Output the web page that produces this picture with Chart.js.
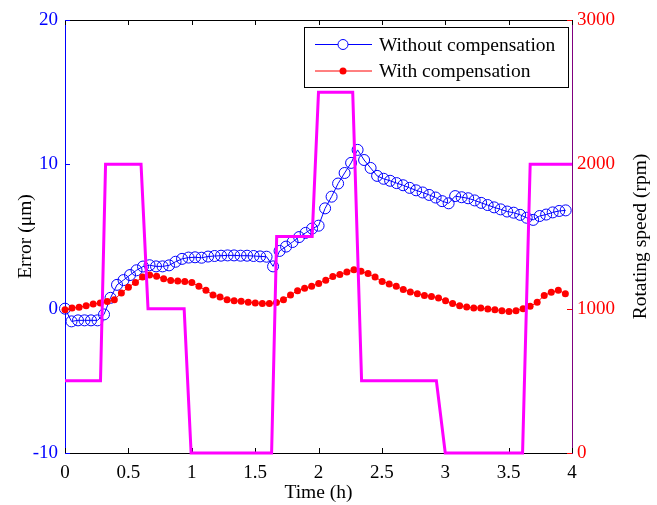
<!DOCTYPE html>
<html>
<head>
<meta charset="utf-8">
<title>Error and rotating speed vs time</title>
<script src="https://cdn.jsdelivr.net/npm/chart.js@4.4.1/dist/chart.umd.min.js"></script>
<style>
  html, body { margin: 0; padding: 0; background: #fff; }
  #chart { display: block; }
</style>
</head>
<body>
<canvas id="chart" width="657" height="505"></canvas>
<script>
// Error without compensation (um), one sample every blueStepH hours
const blueStepH = 0.0513;
const errWithout = [
  0.0, -0.88, -0.81, -0.81, -0.81, -0.81, -0.4, 0.75, 1.65, 1.98,
  2.33, 2.66, 2.92, 3.01, 2.93, 2.93, 3.0, 3.25, 3.45, 3.54,
  3.56, 3.53, 3.61, 3.65, 3.67, 3.69, 3.69, 3.67, 3.67, 3.65,
  3.62, 3.6, 2.93, 4.0, 4.3, 4.62, 4.96, 5.25, 5.55, 5.75,
  6.95, 7.76, 8.67, 9.4, 10.1, 11.0, 10.3, 9.75, 9.2, 9.0,
  8.86, 8.7, 8.55, 8.37, 8.2, 8.05, 7.88, 7.7, 7.45, 7.3,
  7.8, 7.72, 7.65, 7.5, 7.33, 7.18, 7.02, 6.88, 6.73, 6.65,
  6.5, 6.3, 6.15, 6.42, 6.52, 6.67, 6.77, 6.81
];

// Error with compensation (um), one sample every redStepH hours
const redStepH = 0.0556;
const errWith = [
  -0.07, 0.05, 0.09, 0.2, 0.32, 0.39, 0.49, 0.62, 1.09, 1.48,
  1.82, 2.19, 2.33, 2.24, 2.08, 1.96, 1.92, 1.89, 1.82, 1.55,
  1.27, 0.95, 0.81, 0.62, 0.55, 0.51, 0.44, 0.39, 0.35, 0.35,
  0.42, 0.62, 0.95, 1.25, 1.41, 1.55, 1.75, 1.97, 2.22, 2.36,
  2.54, 2.70, 2.59, 2.43, 2.19, 1.89, 1.71, 1.55, 1.32, 1.16,
  1.04, 0.92, 0.85, 0.74, 0.55, 0.35, 0.21, 0.12, 0.05, 0.05,
  -0.02, -0.07, -0.14, -0.19, -0.14, 0, 0.16, 0.44, 0.92, 1.13,
  1.27, 1.04
];

// Spindle speed profile (right axis)
const speedTime = [0, 0.28, 0.32, 0.6, 0.655, 0.94, 0.995, 1.63, 1.67, 1.95, 2.0, 2.27, 2.34, 2.93, 3.0, 3.61, 3.67, 4];
const speedRpm  = [500, 500, 2000, 2000, 1000, 1000, 0, 0, 1500, 1500, 2500, 2500, 500, 500, 0, 0, 2000, 2000];

const legendLabels = ['Without compensation', 'With compensation'];
const xTitle = 'Time (h)';
const yTitle = 'Error (\u03bcm)';
const y1Title = 'Rotating speed (rpm)';

const SERIF = "'Liberation Serif', 'Times New Roman', serif";
const TICK = 5;
const BLUE = '#0000ff';
const RED = '#ff0000';
const MAGENTA = '#ff00ff';

const blueData = errWithout.map((v, i) => ({ x: i * blueStepH, y: v }));
const redData = errWith.map((v, i) => ({ x: i * redStepH, y: v }));
const speedData = speedTime.map((t, i) => ({ x: t, y: speedRpm[i] }));

// plain number labels, no thousands separator or trailing .0
const plainLabel = v => String(v);

// inward ticks, top edge, right-hand title and the legend box
const matlabFrame = {
    id: 'matlabFrame',
    beforeDatasetsDraw(chart) {
        const { ctx, chartArea: a, scales } = chart;
        ctx.save();
        ctx.lineWidth = 1;

        ctx.strokeStyle = '#000';
        ctx.beginPath();
        ctx.moveTo(a.left, a.top + 0.5);
        ctx.lineTo(a.right, a.top + 0.5);
        ctx.stroke();

        scales.x.ticks.forEach(t => {
            const px = Math.round(scales.x.getPixelForValue(t.value)) + 0.5;
            ctx.beginPath();
            ctx.moveTo(px, a.bottom);
            ctx.lineTo(px, a.bottom - TICK);
            ctx.moveTo(px, a.top);
            ctx.lineTo(px, a.top + TICK);
            ctx.stroke();
        });

        ctx.strokeStyle = BLUE;
        scales.y.ticks.forEach(t => {
            const py = Math.round(scales.y.getPixelForValue(t.value)) + 0.5;
            ctx.beginPath();
            ctx.moveTo(a.left, py);
            ctx.lineTo(a.left + TICK, py);
            ctx.stroke();
        });

        ctx.strokeStyle = RED;
        scales.y1.ticks.forEach(t => {
            const py = Math.round(scales.y1.getPixelForValue(t.value)) + 0.5;
            ctx.beginPath();
            ctx.moveTo(a.right, py);
            ctx.lineTo(a.right - TICK, py);
            ctx.stroke();
        });
        ctx.restore();
    },
    afterDraw(chart) {
        const { ctx, chartArea: a } = chart;
        ctx.save();

        // right axis title reads bottom to top
        ctx.fillStyle = '#000';
        ctx.font = '19.5px ' + SERIF;
        ctx.textAlign = 'center';
        ctx.textBaseline = 'middle';
        ctx.translate(641, (a.top + a.bottom) / 2);
        ctx.rotate(-Math.PI / 2);
        ctx.fillText(y1Title, 0, 0);
        ctx.restore();

        // legend
        ctx.save();
        const box = { x: 304, y: 27, w: 264, h: 60 };
        ctx.fillStyle = '#fff';
        ctx.fillRect(box.x, box.y, box.w, box.h);
        ctx.strokeStyle = '#000';
        ctx.lineWidth = 1;
        ctx.strokeRect(box.x + 0.5, box.y + 0.5, box.w, box.h);

        const rows = [
            { y: 44.5, color: BLUE, filled: false, r: 5 },
            { y: 71, color: RED, filled: true, r: 3.5 }
        ];
        rows.forEach((row, i) => {
            ctx.strokeStyle = row.color;
            ctx.lineWidth = 1;
            ctx.beginPath();
            ctx.moveTo(315, row.y);
            ctx.lineTo(372, row.y);
            ctx.stroke();
            ctx.beginPath();
            ctx.arc(343, row.y, row.r, 0, Math.PI * 2);
            if (row.filled) {
                ctx.fillStyle = row.color;
                ctx.fill();
            } else {
                ctx.fillStyle = '#fff';
                ctx.fill();
                ctx.stroke();
            }
            ctx.fillStyle = '#000';
            ctx.font = '19.5px ' + SERIF;
            ctx.textAlign = 'left';
            ctx.textBaseline = 'middle';
            ctx.fillText(legendLabels[i], 379, row.y + 1);
        });
        ctx.restore();
    }
};

new Chart(document.getElementById('chart'), {
    type: 'line',
    data: {
        datasets: [
            {
                label: 'Rotating speed',
                data: speedData,
                yAxisID: 'y1',
                borderColor: MAGENTA,
                borderWidth: 3,
                pointRadius: 0,
                tension: 0,
                clip: false,
                order: 0
            },
            {
                label: legendLabels[1],
                data: redData,
                yAxisID: 'y',
                borderColor: RED,
                borderWidth: 1,
                pointRadius: 3.5,
                pointBackgroundColor: RED,
                pointBorderColor: RED,
                pointBorderWidth: 0,
                tension: 0,
                clip: false,
                order: 1
            },
            {
                label: legendLabels[0],
                data: blueData,
                yAxisID: 'y',
                borderColor: BLUE,
                borderWidth: 1,
                pointRadius: 5.5,
                pointBackgroundColor: 'rgba(0,0,0,0)',
                pointBorderColor: BLUE,
                pointBorderWidth: 1,
                tension: 0,
                clip: false,
                order: 2
            }
        ]
    },
    options: {
        responsive: false,
        devicePixelRatio: 1,
        animation: false,
        layout: { padding: { top: 20, right: 0, bottom: 0, left: 0 } },
        plugins: {
            legend: { display: false },
            tooltip: { enabled: false }
        },
        scales: {
            x: {
                type: 'linear',
                min: 0,
                max: 4,
                afterFit: s => { s.height = 52; },
                grid: { display: false, drawTicks: false },
                border: { display: true, color: '#000', width: 1 },
                ticks: {
                    stepSize: 0.5,
                    padding: 9,
                    color: '#000',
                    callback: plainLabel,
                    font: { family: SERIF, size: 19 }
                },
                title: {
                    display: true,
                    text: xTitle,
                    color: '#000',
                    padding: { top: 0, bottom: 0 },
                    font: { family: SERIF, size: 19.5 }
                }
            },
            y: {
                position: 'left',
                min: -10,
                max: 20,
                afterFit: s => { s.width = 65; },
                grid: { display: false, drawTicks: false },
                border: { display: true, color: BLUE, width: 1 },
                ticks: {
                    stepSize: 10,
                    padding: 7,
                    color: BLUE,
                    callback: plainLabel,
                    font: { family: SERIF, size: 19 }
                },
                title: {
                    display: true,
                    text: yTitle,
                    color: '#000',
                    padding: { top: 14, bottom: 0 },
                    font: { family: SERIF, size: 19.5 }
                }
            },
            y1: {
                position: 'right',
                min: 0,
                max: 3000,
                afterFit: s => { s.width = 85; },
                grid: { display: false, drawTicks: false },
                border: { display: true, color: '#800080', width: 1 },
                ticks: {
                    stepSize: 1000,
                    padding: 5,
                    color: RED,
                    callback: plainLabel,
                    font: { family: SERIF, size: 19 }
                }
            }
        }
    },
    plugins: [matlabFrame]
});
</script>
</body>
</html>
